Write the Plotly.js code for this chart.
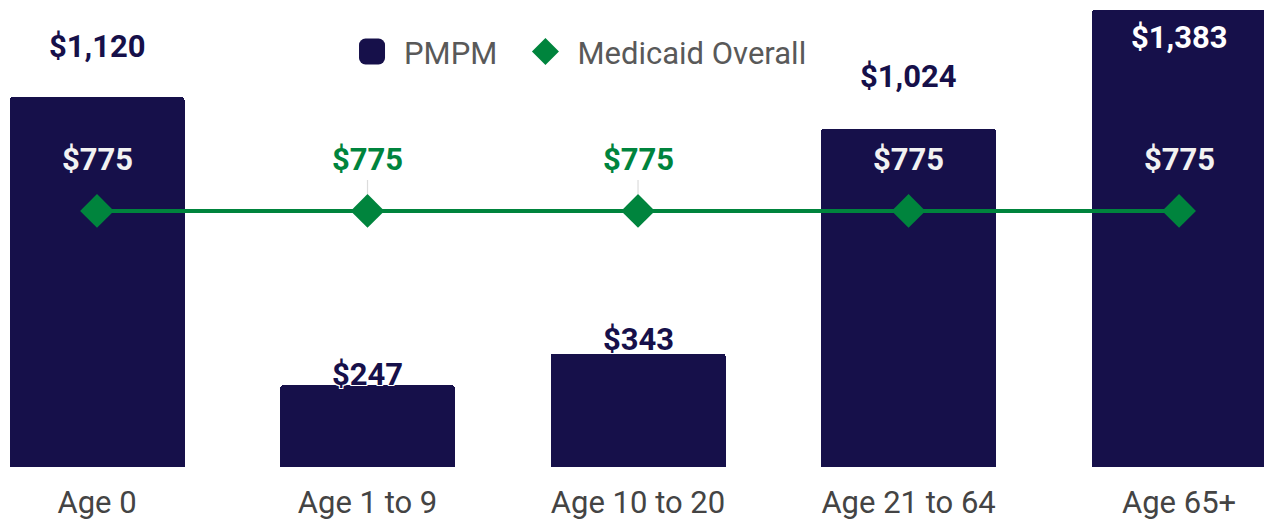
<!DOCTYPE html>
<html>
<head>
<meta charset="utf-8">
<script src="https://cdn.plot.ly/plotly-3.0.1.min.js"></script>
<style>
  html, body { margin: 0; padding: 0; background: #ffffff; }
  #chart { width: 1264px; height: 527px; }
</style>
</head>
<body>
<div id="chart"></div>
<script>
// ---- Data ----
const categories = ['Age 0', 'Age 1 to 9', 'Age 10 to 20', 'Age 21 to 64', 'Age 65+'];
const pmpmValues = [1120, 247, 343, 1024, 1383];
const medicaidOverallValues = [775, 775, 775, 775, 775];
const seriesNames = ['PMPM', 'Medicaid Overall'];

// ---- Style ----
const NAVY = '#16104a';
const GREEN = '#00843d';
const FONT = 'Roboto, "Open Sans", sans-serif';
const fmt = v => '$' + v.toLocaleString('en-US');

// label placement (pixel offsets of PMPM value labels relative to bar top)
const pmpmLabelShift = [50, 11, 14, 52, -27];

const traces = [
  {
    type: 'bar',
    name: seriesNames[0],
    legend: 'legend',
    x: categories,
    y: pmpmValues,
    width: 0.647,
    marker: { color: NAVY, cornerradius: 3, line: { width: 0 } },
    hoverinfo: 'x+y'
  },
  {
    type: 'scatter',
    mode: 'lines',
    name: seriesNames[1],
    showlegend: false,
    x: categories,
    y: medicaidOverallValues,
    line: { color: GREEN, width: 4 },
    hoverinfo: 'skip'
  },
  {
    type: 'scatter',
    mode: 'markers',
    name: seriesNames[1],
    legend: 'legend2',
    x: categories,
    y: medicaidOverallValues,
    marker: { symbol: 'diamond', size: 26, color: GREEN, line: { width: 0 } },
    hoverinfo: 'x+y'
  }
];

const annotations = [];
categories.forEach((c, i) => {
  const inside = pmpmLabelShift[i] < 0;
  annotations.push({
    x: c, y: pmpmValues[i], xref: 'x', yref: 'y',
    text: '<b>' + fmt(pmpmValues[i]) + '</b>',
    showarrow: false,
    yanchor: 'middle',
    yshift: pmpmLabelShift[i],
    font: {
      family: FONT, size: 31, color: inside ? '#ffffff' : NAVY,
      shadow: inside ? 'none' : '1px 1px 0 #fff, -1px -1px 0 #fff, 1px -1px 0 #fff, -1px 1px 0 #fff'
    }
  });
  const onBar = pmpmValues[i] > medicaidOverallValues[i];
  annotations.push({
    x: c, y: medicaidOverallValues[i], xref: 'x', yref: 'y',
    text: '<b>' + fmt(medicaidOverallValues[i]) + '</b>',
    showarrow: true, ax: 0, ay: -51,
    arrowhead: 0, arrowwidth: 1.2, standoff: 17,
    arrowcolor: onBar ? 'rgba(0,0,0,0)' : '#dcdcdc',
    font: { family: FONT, size: 31, color: onBar ? '#f2f2f2' : GREEN }
  });
});

const legendBase = {
  orientation: 'h', xanchor: 'left', y: 0.889, yanchor: 'middle',
  font: { family: FONT, size: 31, color: '#595959' },
  bgcolor: 'rgba(0,0,0,0)', itemsizing: 'constant', itemwidth: 54
};

const layout = {
  width: 1264, height: 527,
  margin: { l: 0, r: 0, t: 0, b: 60, pad: 0 },
  paper_bgcolor: '#ffffff', plot_bgcolor: '#ffffff',
  font: { family: FONT, color: '#444444' },
  showlegend: true,
  legend: Object.assign({}, legendBase, { x: 0.2690 }),
  legend2: Object.assign({}, legendBase, { x: 0.4062 }),
  xaxis: {
    type: 'category', range: [-0.3586, 4.314], fixedrange: true,
    showgrid: false, zeroline: false, showline: false, ticks: '',
    tickfont: { family: FONT, size: 31, color: '#444444' },
    ticklabelstandoff: 14
  },
  yaxis: {
    range: [0, 1413.6], visible: false, fixedrange: true,
    showgrid: false, zeroline: false
  },
  bargap: 0,
  annotations: annotations
};

function enlargeLegendSymbols() {
  const targets = { legend: 26, legend2: 27 };
  ['legend', 'legend2'].forEach(name => {
    const g = gd.querySelector('.infolayer .' + name);
    if (!g) return;
    g.querySelectorAll('.traces path').forEach(p => {
      if (p.getAttribute('data-scaled')) return;
      let bb;
      try { bb = p.getBBox(); } catch (e) { return; }
      if (!bb || bb.width <= 0) return;
      const k = targets[name] / bb.width;
      const cx = bb.x + bb.width / 2, cy = bb.y + bb.height / 2;
      const t = p.getAttribute('transform') || '';
      p.setAttribute('transform', t + ' translate(' + cx + ',' + cy + ') scale(' + k + ') translate(' + (-cx) + ',' + (-cy) + ')');
      p.setAttribute('data-scaled', '1');
    });
  });
}

const gd = document.getElementById('chart');
Plotly.newPlot(gd, traces, layout, { displayModeBar: false, staticPlot: true }).then(() => {
  enlargeLegendSymbols();
});
</script>
</body>
</html>
